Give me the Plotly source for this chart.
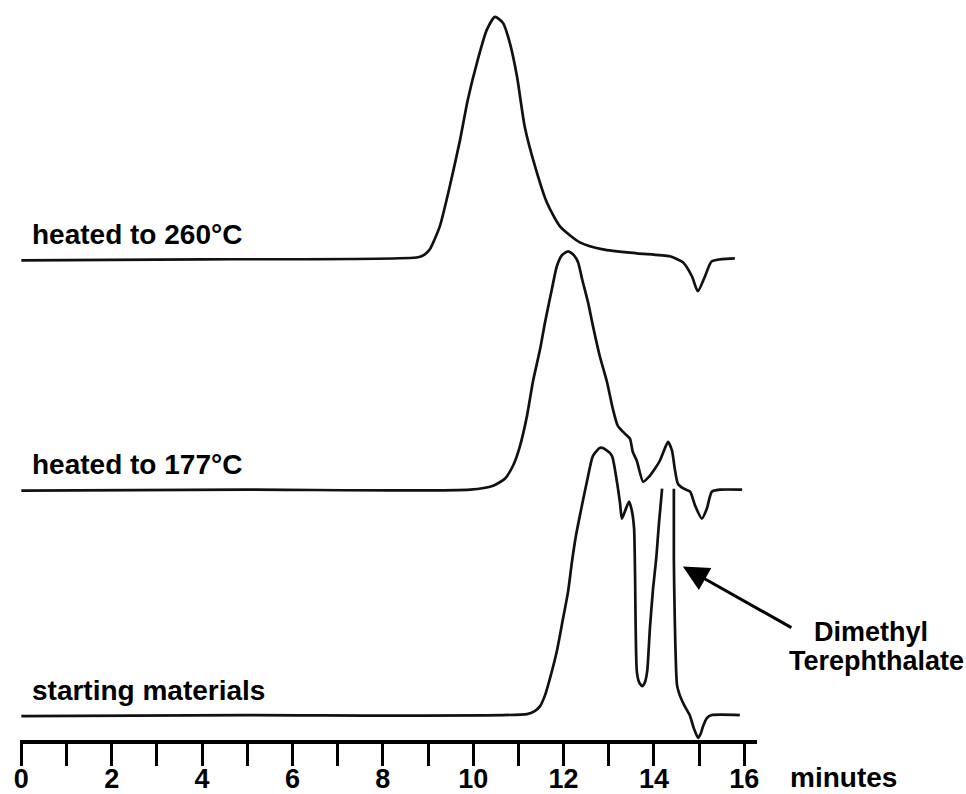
import plotly.graph_objects as go

# Retention time (minutes) and detector response (arbitrary units, relative to each trace's baseline)
t_260 = [0.0, 4.0, 8.78, 8.93, 9.04, 9.26, 9.48, 9.71, 9.88, 10.10, 10.30, 10.48, 10.66, 10.81,
         10.97, 11.14, 11.37, 11.63, 11.92, 12.36, 12.87, 13.62, 14.35, 14.64, 14.84, 14.97,
         15.13, 15.28, 15.79]
s_260 = [-0.1, 0.0, 0.2, 0.5, 1.0, 3.3, 7.3, 12.0, 16.0, 20.0, 23.0, 24.3, 23.7, 21.7,
         18.3, 13.3, 9.3, 5.7, 3.3, 1.7, 1.0, 0.6, 0.3, -0.3, -1.7, -3.2,
         -1.7, -0.2, 0.1]

t_177 = [0.0, 5.0, 9.93, 10.44, 10.70, 10.88, 11.03, 11.19, 11.32, 11.48, 11.59, 11.74, 11.85,
         11.96, 12.10, 12.23, 12.32, 12.41, 12.54, 12.65, 12.80, 12.96, 13.09, 13.20, 13.36,
         13.47, 13.53, 13.62, 13.76, 13.89, 14.02, 14.13, 14.22, 14.31, 14.40, 14.46, 14.53,
         14.66, 14.80, 14.91, 15.06, 15.17, 15.28, 15.46, 15.95]
s_177 = [-0.1, 0.0, 0.0, 0.4, 1.1, 2.4, 4.3, 7.4, 10.8, 14.1, 16.8, 20.1, 22.4,
         23.5, 23.9, 23.5, 22.8, 21.1, 18.8, 16.4, 13.4, 10.8, 8.1, 6.4, 5.6,
         5.1, 3.8, 2.9, 0.8, 1.3, 2.1, 2.9, 3.9, 4.8, 3.9, 2.1, 0.6,
         0.1, -0.2, -1.6, -2.9, -1.9, -0.2, 0.0, 0.0]

# starting materials: the pen goes off scale between the two strokes (gap = None)
t_start = [0.0, 5.0, 11.19, 11.36, 11.48, 11.59, 11.70, 11.85, 11.98, 12.10, 12.18, 12.27,
           12.36, 12.52, 12.65, 12.81, 12.94, 13.07, 13.18, 13.25, 13.29, 13.38, 13.45, 13.51,
           13.56, 13.58, 13.62, 13.67, 13.74, 13.80, 13.85, 13.91, 13.98, 14.05, 14.11, 14.18,
           None,
           14.44, 14.44, 14.46, 14.51, 14.57, 14.68, 14.79, 14.88, 14.98, 15.04, 15.08, 15.17,
           15.28, 15.90]
s_start = [-0.1, 0.0, 0.1, 0.4, 0.9, 2.0, 3.7, 6.4, 9.5, 12.4, 15.2, 17.9,
           20.0, 23.5, 26.0, 26.8, 26.6, 26.0, 23.4, 21.2, 19.7, 20.7, 21.4, 20.5,
           18.7, 14.4, 4.4, 3.3, 2.9, 3.3, 4.4, 8.7, 12.7, 15.7, 19.2, 22.7,
           None,
           22.7, 15.7, 9.7, 3.0, 2.0, 0.9, 0.0, -1.3, -2.3, -1.8, -1.2, -0.3,
           0.0, 0.0]

# vertical stacking offsets of the three chromatograms
offset_260 = 48.2
offset_177 = 25.1
offset_start = 2.5

trace_labels = ["heated to 260°C", "heated to 177°C", "starting materials"]
tick_vals = list(range(0, 17))
tick_text = [str(v) if v % 2 == 0 else "" for v in tick_vals]
axis_title = "minutes"
peak_label_lines = ["Dimethyl", "Terephthalate"]

FONT = "Liberation Sans, Arial, sans-serif"
line_style = dict(color="#111111", width=2.7, shape="spline", smoothing=0.6)

fig = go.Figure()
for t, s, off in [(t_260, s_260, offset_260), (t_177, s_177, offset_177), (t_start, s_start, offset_start)]:
    fig.add_trace(go.Scatter(
        x=t, y=[None if v is None else v + off for v in s],
        mode="lines", line=line_style, connectgaps=False, hoverinfo="skip", showlegend=False,
    ))

# trace labels
for lab, off in zip(trace_labels, [offset_260, offset_177, offset_start]):
    fig.add_annotation(x=0.19, y=off + 2.5, xref="x", yref="y", text=lab, showarrow=False,
                       xanchor="left", yanchor="middle",
                       font=dict(family=FONT, size=28, color="black", weight="bold"))

# axis title to the right of the axis
fig.add_annotation(x=1.1167, y=-0.0512, xref="paper", yref="paper", text=axis_title, showarrow=False,
                   xanchor="center", yanchor="middle",
                   font=dict(family=FONT, size=28, color="black", weight="bold"))

# peak label (two lines) and arrow
for line_text, xp, yp in zip(peak_label_lines, [1.1547, 1.1628], [0.1456, 0.1063]):
    fig.add_annotation(x=xp, y=yp, xref="paper", yref="paper", text=line_text, showarrow=False,
                       xanchor="center", yanchor="middle",
                       font=dict(family=FONT, size=27, color="black", weight="bold"))
fig.add_annotation(x=14.64, y=offset_start + 14.9, xref="x", yref="y", text="",
                   showarrow=True, axref="pixel", ayref="pixel", ax=110, ay=62,
                   arrowhead=2, arrowsize=1.7, arrowwidth=3, arrowcolor="black")

fig.update_layout(
    width=966, height=794,
    margin=dict(l=20, r=209, t=0, b=52),
    paper_bgcolor="white", plot_bgcolor="white",
    xaxis=dict(range=[-0.03, 16.28], showgrid=False, zeroline=False, showline=True,
               linecolor="black", linewidth=3.5, ticks="outside", ticklen=22, tickwidth=3,
               tickcolor="black", tickvals=tick_vals, ticktext=tick_text,
               ticklabelstandoff=-10,
               tickfont=dict(family=FONT, size=27, color="black", weight="bold"),
               fixedrange=True),
    yaxis=dict(range=[0, 74.2], visible=False, fixedrange=True),
)

fig.write_html("out.html")
